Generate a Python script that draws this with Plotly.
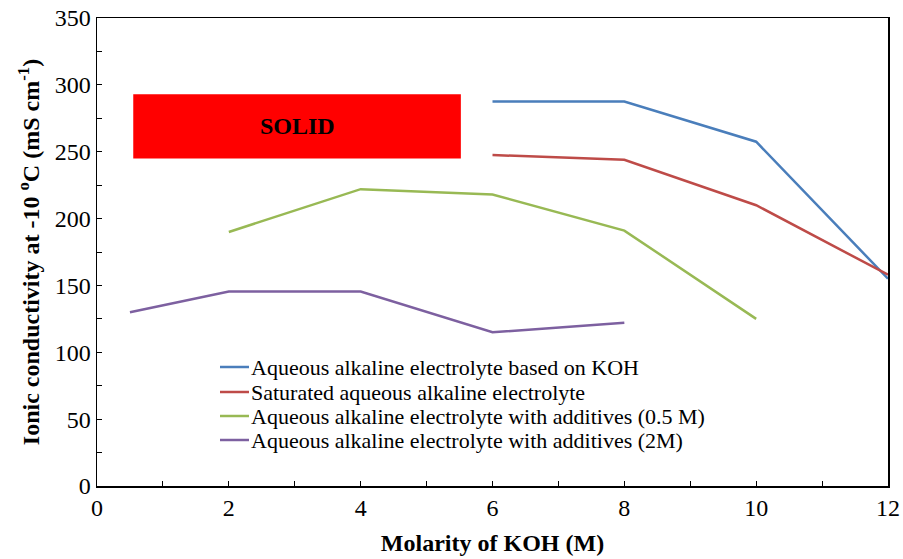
import plotly.graph_objects as go

series_names = [
    "Aqueous alkaline electrolyte based on KOH",
    "Saturated aqueous alkaline electrolyte",
    "Aqueous alkaline electrolyte with additives (0.5 M)",
    "Aqueous alkaline electrolyte with additives (2M)",
]
blue_x = [6, 8, 10, 12]
blue_y = [287.5, 287.5, 257.5, 155]
red_x = [6, 8, 10, 12]
red_y = [247.5, 244, 210, 158]
green_x = [2, 4, 6, 8, 10]
green_y = [190, 222, 218, 191, 125]
purple_x = [0.5, 2, 4, 6, 8]
purple_y = [130, 145.5, 145.5, 115, 122]
colors = ["#4A7EBB", "#BE4B48", "#98B954", "#7D60A0"]

solid_box = dict(x0=0.55, x1=5.52, y0=245, y1=293)

SERIF = "Times New Roman, Liberation Serif, serif"

W, H = 903, 559
# plot area in page pixels
L, R, T, B = 97, 888, 18, 486


def px_x(p):
    return (p - L) / (R - L)


def px_y(p):
    return (B - p) / (B - T)


fig = go.Figure()
for name, xs, ys, c in zip(series_names,
                           [blue_x, red_x, green_x, purple_x],
                           [blue_y, red_y, green_y, purple_y], colors):
    fig.add_trace(go.Scatter(x=xs, y=ys, mode="lines", name=name,
                             line=dict(color=c, width=2.5), showlegend=False,
                             hoverinfo="skip"))

fig.add_shape(type="rect", xref="x", yref="y", line=dict(width=0),
              fillcolor="#FF0000", layer="below", **solid_box)
fig.add_annotation(x=(solid_box["x0"] + solid_box["x1"]) / 2,
                   y=(solid_box["y0"] + solid_box["y1"]) / 2,
                   text="<b>SOLID</b>", showarrow=False,
                   font=dict(family=SERIF, size=24, color="black"))

# manual legend
legend_rows = [367, 392, 416, 440]
for name, c, row in zip(series_names, colors, legend_rows):
    fig.add_shape(type="line", xref="paper", yref="paper",
                  x0=px_x(220), x1=px_x(249), y0=px_y(row), y1=px_y(row),
                  line=dict(color=c, width=2.5))
    fig.add_annotation(xref="paper", yref="paper", x=px_x(249), y=px_y(row),
                       xanchor="left", yanchor="middle", showarrow=False,
                       text=name, font=dict(family=SERIF, size=22, color="black"))

axis_common = dict(showgrid=False, zeroline=False, showline=True, linecolor="black",
                   linewidth=1.5, mirror=True, ticks="inside", ticklen=5,
                   tickcolor="black", tickwidth=1, automargin=False,
                   tickfont=dict(family=SERIF, size=24, color="black"))

fig.update_xaxes(range=[0, 12], tick0=0, dtick=2,
                 minor=dict(ticks="inside", dtick=1, ticklen=5, tickcolor="black",
                            tickwidth=1, showgrid=False),
                 title=dict(text="<b>Molarity of KOH (M)</b>",
                            font=dict(family=SERIF, size=24, color="black"),
                            standoff=14),
                 **axis_common)
fig.update_yaxes(range=[0, 350], tick0=0, dtick=50,
                 minor=dict(ticks="inside", dtick=25, ticklen=5, tickcolor="black",
                            tickwidth=1, showgrid=False),
                 title=dict(text="<b>Ionic conductivity at -10 <sup>o</sup>C (mS cm<sup>-1</sup>)</b>",
                            font=dict(family=SERIF, size=24, color="black"),
                            standoff=8),
                 **axis_common)

fig.update_layout(
    width=W, height=H,
    margin=dict(l=L, r=W - R, t=T, b=H - B),
    plot_bgcolor="white", paper_bgcolor="white",
    showlegend=False,
)

fig.write_html("out.html",
               config={"displayModeBar": False, "staticPlot": True},
               post_script="document.body.style.margin='0';"
                           "document.body.style.overflow='hidden';")
